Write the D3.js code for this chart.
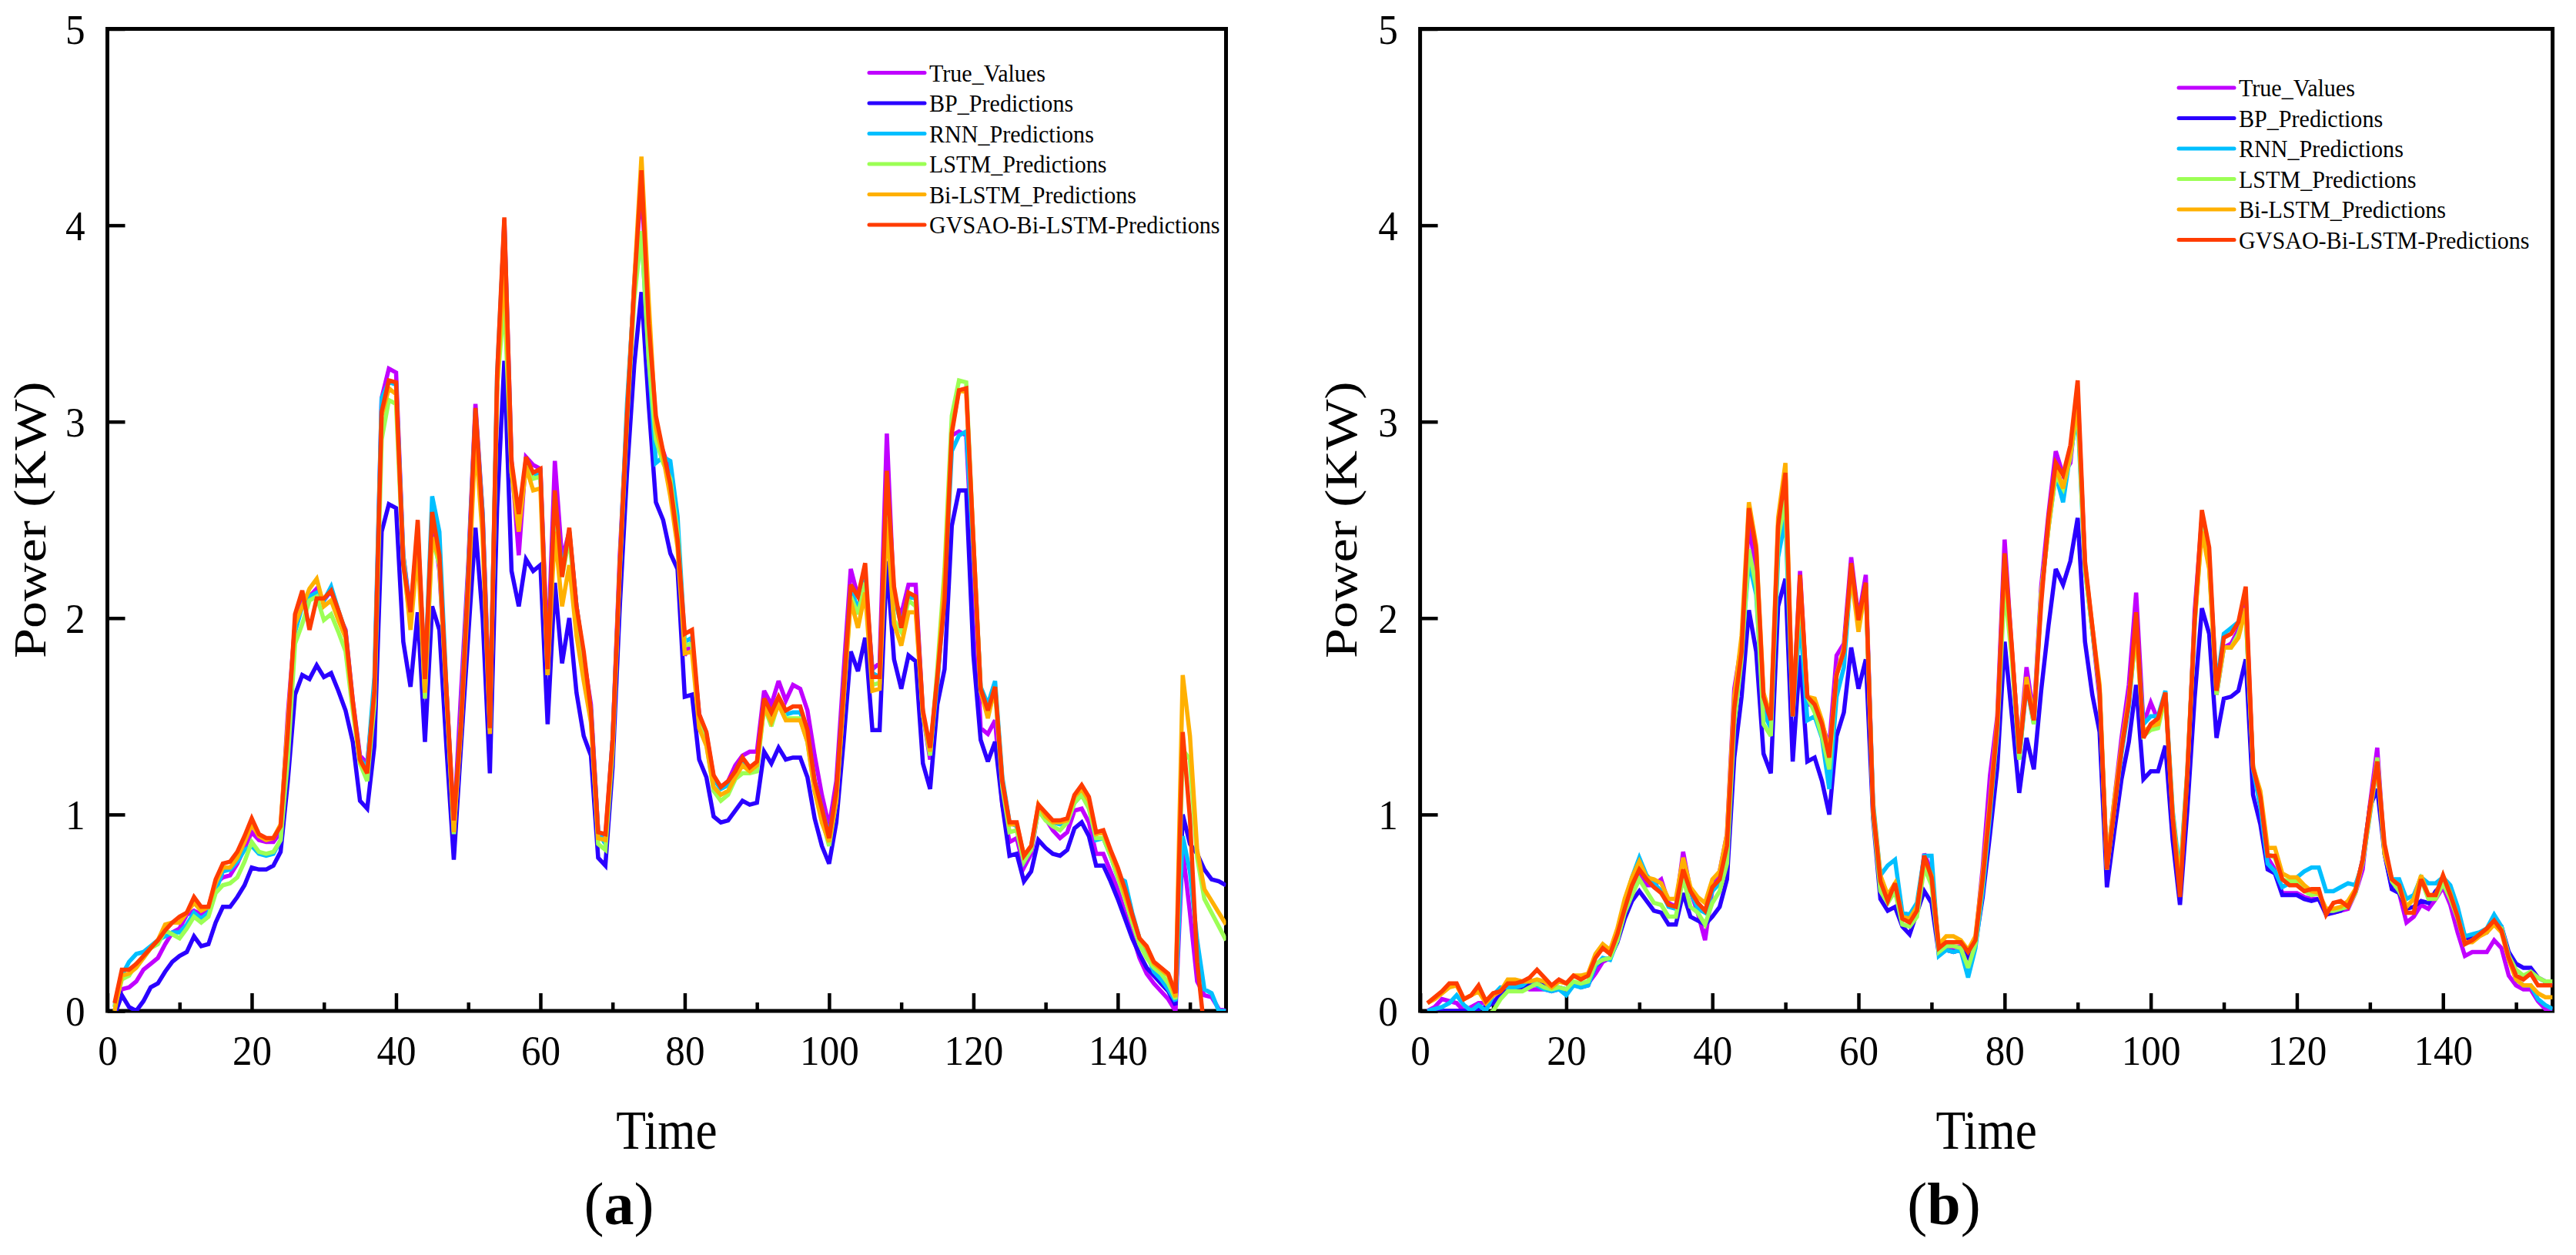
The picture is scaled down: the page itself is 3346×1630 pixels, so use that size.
<!DOCTYPE html>
<html><head><meta charset="utf-8">
<script src="https://cdn.jsdelivr.net/npm/d3@7"></script>
<style>
html,body{margin:0;padding:0;background:#fff;}
svg{display:block;background:#fff;}
text{font-family:"Liberation Serif","Times New Roman",serif;fill:#000;}
</style>
</head><body>
<svg id="chart" width="3346" height="1630"></svg>
<script>
// ---------- data ----------
const timeSteps = d3.range(1, 156);
const seriesNames = ["True_Values","BP_Predictions","RNN_Predictions","LSTM_Predictions","Bi-LSTM_Predictions","GVSAO-Bi-LSTM-Predictions"];
const seriesColors = ["#C000FF","#2A00FF","#00BFFF","#9CFF55","#FFB000","#FF3C00"];
const xTicksMajor = [0,20,40,60,80,100,120,140];
const xTicksMinor = [10,30,50,70,90,110,130,150];
const yTicks = [0,1,2,3,4,5];
const panelLetters = ["a","b"];
const xTitle = "Time";
const yTitle = "Power (KW)";

// panel (a)
const aTrue = [0.03,0.11,0.12,0.15,0.21,0.24,0.27,0.34,0.40,0.42,
 0.49,0.51,0.49,0.52,0.65,0.68,0.69,0.75,0.83,0.91,
 0.87,0.86,0.86,0.91,1.51,1.97,2.09,2.11,2.15,2.09,
 2.14,2.02,1.94,1.58,1.30,1.26,1.63,3.12,3.27,3.25,
 2.32,2.03,2.44,1.68,2.53,2.24,1.62,0.94,1.62,2.27,
 3.09,2.53,1.50,3.15,4.03,2.80,2.32,2.82,2.78,2.76,
 1.80,2.80,2.30,2.44,2.06,1.80,1.56,0.91,0.88,1.38,
 2.32,3.03,3.71,4.21,3.47,2.94,2.85,2.74,2.42,1.81,
 1.88,1.51,1.41,1.19,1.14,1.17,1.25,1.30,1.32,1.32,
 1.63,1.56,1.68,1.58,1.66,1.64,1.53,1.30,1.10,0.94,
 1.17,1.72,2.25,2.11,2.20,1.74,1.77,2.94,2.09,2.02,
 2.17,2.17,1.51,1.28,1.67,2.18,2.93,2.95,2.93,2.20,
 1.44,1.41,1.48,1.05,0.86,0.88,0.73,0.80,1.03,0.98,
 0.92,0.88,0.91,1.02,1.03,0.96,0.80,0.80,0.71,0.62,
 0.50,0.39,0.27,0.19,0.14,0.10,0.06,0.00,0.82,0.50,
 0.15,0.08,0.07,0.01,0.00];
const aBP = [-0.02,0.08,0.02,0.00,0.05,0.12,0.14,0.20,0.25,0.28,
 0.30,0.38,0.33,0.34,0.45,0.53,0.53,0.58,0.64,0.73,
 0.72,0.72,0.74,0.81,1.17,1.61,1.71,1.69,1.76,1.70,
 1.72,1.63,1.53,1.37,1.07,1.03,1.35,2.44,2.58,2.56,
 1.88,1.65,2.03,1.37,2.06,1.94,1.33,0.77,1.35,1.91,
 2.46,2.00,1.21,2.56,3.31,2.24,2.06,2.30,2.24,2.27,
 1.46,2.18,1.77,2.00,1.62,1.40,1.30,0.78,0.74,1.24,
 2.06,2.74,3.29,3.66,3.09,2.59,2.50,2.33,2.25,1.60,
 1.61,1.28,1.19,0.99,0.96,0.97,1.02,1.07,1.05,1.06,
 1.32,1.26,1.34,1.28,1.29,1.29,1.19,0.98,0.84,0.75,
 0.96,1.37,1.83,1.73,1.90,1.43,1.43,2.29,1.79,1.64,
 1.81,1.78,1.26,1.13,1.56,1.74,2.47,2.65,2.65,1.81,
 1.38,1.27,1.37,1.05,0.79,0.80,0.66,0.71,0.87,0.83,
 0.80,0.79,0.82,0.93,0.96,0.89,0.74,0.74,0.66,0.57,
 0.47,0.37,0.29,0.22,0.18,0.14,0.10,0.03,1.00,0.85,
 0.80,0.72,0.67,0.66,0.64];
const aRNN = [0.02,0.18,0.25,0.29,0.30,0.33,0.36,0.38,0.40,0.40,
 0.44,0.50,0.47,0.50,0.61,0.71,0.72,0.76,0.82,0.84,
 0.80,0.79,0.80,0.87,1.37,1.93,2.06,2.11,2.13,2.09,
 2.16,2.04,1.93,1.56,1.28,1.24,1.70,3.12,3.20,3.19,
 2.32,2.00,2.44,1.68,2.62,2.44,1.62,0.94,1.50,2.24,
 3.06,2.53,1.44,3.24,4.00,2.77,2.50,2.79,2.72,2.74,
 1.74,2.62,2.24,2.44,2.06,1.80,1.53,0.91,0.85,1.38,
 2.27,3.09,3.68,3.97,3.32,2.79,2.82,2.80,2.52,1.88,
 1.90,1.49,1.40,1.18,1.13,1.15,1.21,1.27,1.24,1.25,
 1.56,1.50,1.58,1.51,1.52,1.52,1.42,1.17,1.03,0.89,
 1.10,1.63,2.16,2.04,2.20,1.72,1.70,2.61,2.11,1.97,
 2.11,2.10,1.51,1.31,1.67,2.13,2.85,2.93,2.95,2.34,
 1.65,1.56,1.68,1.19,0.96,0.94,0.76,0.83,1.03,0.99,
 0.96,0.95,0.96,1.06,1.10,1.04,0.87,0.88,0.79,0.68,
 0.66,0.50,0.37,0.29,0.20,0.16,0.11,0.05,0.89,0.71,
 0.36,0.11,0.09,0.00,0.00];
const aLSTM = [0.02,0.16,0.18,0.24,0.27,0.32,0.34,0.41,0.39,0.37,
 0.42,0.48,0.45,0.48,0.60,0.64,0.65,0.68,0.76,0.86,
 0.81,0.80,0.81,0.87,1.28,1.87,1.97,2.09,2.11,1.99,
 2.02,1.93,1.83,1.53,1.26,1.17,1.56,2.91,3.11,3.09,
 2.27,1.97,2.41,1.59,2.41,2.27,1.59,0.90,1.47,2.21,
 3.00,2.44,1.43,3.18,3.62,2.74,2.53,2.79,2.71,2.72,
 1.71,2.59,2.21,2.41,2.03,1.74,1.50,0.85,0.82,1.32,
 2.24,3.00,3.62,3.97,3.32,2.91,2.79,2.71,2.44,1.86,
 1.87,1.47,1.36,1.12,1.07,1.10,1.18,1.21,1.21,1.22,
 1.55,1.45,1.57,1.49,1.49,1.49,1.37,1.12,0.98,0.84,
 1.07,1.58,2.11,2.02,2.18,1.66,1.67,2.61,1.99,1.93,
 2.09,2.06,1.51,1.30,1.74,2.25,3.03,3.21,3.20,2.39,
 1.63,1.51,1.63,1.14,0.91,0.92,0.76,0.82,1.02,0.97,
 0.94,0.92,0.96,1.06,1.10,1.03,0.88,0.88,0.79,0.68,
 0.57,0.45,0.34,0.27,0.22,0.19,0.14,0.06,1.33,1.28,
 0.78,0.57,0.50,0.43,0.36];
const aBiLSTM = [0.00,0.18,0.19,0.22,0.27,0.32,0.36,0.44,0.45,0.45,
 0.50,0.55,0.51,0.53,0.65,0.73,0.73,0.78,0.86,0.95,
 0.89,0.87,0.88,0.95,1.47,1.97,2.06,2.15,2.20,2.06,
 2.09,1.99,1.90,1.56,1.27,1.21,1.63,3.03,3.17,3.14,
 2.30,1.94,2.35,1.62,2.41,2.30,1.59,0.91,1.44,2.12,
 2.91,2.41,1.41,3.18,3.82,2.74,2.44,2.77,2.65,2.66,
 1.71,2.44,2.06,2.27,1.91,1.68,1.47,0.88,0.87,1.35,
 2.27,3.03,3.71,4.35,3.62,2.97,2.82,2.62,2.36,1.82,
 1.83,1.44,1.35,1.14,1.10,1.12,1.19,1.25,1.22,1.25,
 1.55,1.47,1.56,1.48,1.48,1.48,1.37,1.12,0.96,0.86,
 1.07,1.58,2.09,1.95,2.13,1.63,1.64,2.50,1.97,1.86,
 2.03,2.03,1.51,1.32,1.70,2.20,2.96,3.16,3.15,2.39,
 1.63,1.49,1.65,1.17,0.95,0.95,0.79,0.84,1.05,0.99,
 0.96,0.96,0.97,1.09,1.13,1.07,0.90,0.91,0.81,0.71,
 0.59,0.48,0.37,0.32,0.24,0.21,0.18,0.07,1.71,1.40,
 0.82,0.62,0.56,0.50,0.44];
const aGVSAO = [0.04,0.21,0.21,0.24,0.28,0.32,0.36,0.41,0.45,0.48,
 0.50,0.58,0.53,0.53,0.67,0.75,0.76,0.81,0.89,0.98,
 0.90,0.88,0.88,0.94,1.42,2.02,2.14,1.94,2.10,2.10,
 2.14,2.04,1.93,1.58,1.28,1.21,1.63,3.05,3.21,3.20,
 2.27,2.03,2.50,1.69,2.54,2.32,1.62,0.97,1.47,2.21,
 3.07,2.50,1.44,3.24,4.04,2.80,2.53,2.82,2.74,2.76,
 1.74,2.65,2.21,2.46,2.06,1.83,1.53,0.91,0.90,1.38,
 2.27,3.03,3.68,4.28,3.50,3.03,2.85,2.68,2.40,1.92,
 1.94,1.51,1.42,1.20,1.14,1.17,1.22,1.29,1.24,1.27,
 1.59,1.52,1.60,1.53,1.55,1.55,1.43,1.17,1.03,0.88,
 1.12,1.63,2.17,2.11,2.28,1.70,1.70,2.75,2.16,1.95,
 2.13,2.11,1.53,1.34,1.70,2.09,2.94,3.16,3.17,2.39,
 1.64,1.53,1.65,1.17,0.96,0.96,0.79,0.84,1.05,1.01,
 0.97,0.97,0.98,1.10,1.15,1.09,0.91,0.92,0.82,0.73,
 0.62,0.49,0.37,0.33,0.25,0.22,0.19,0.09,1.42,0.98,
 0.25,-0.10,-0.30,-0.30,-0.30];

// panel (b)
const bTrue = [0.00,0.02,0.06,0.05,0.04,0.00,0.02,0.04,0.04,0.04,
 0.09,0.12,0.12,0.12,0.11,0.11,0.11,0.10,0.11,0.10,
 0.14,0.13,0.14,0.19,0.25,0.27,0.39,0.51,0.61,0.70,
 0.64,0.64,0.67,0.55,0.53,0.81,0.61,0.50,0.36,0.62,
 0.71,0.90,1.64,1.87,2.49,2.22,1.58,1.46,2.41,2.68,
 1.50,2.24,1.56,1.56,1.46,1.35,1.81,1.87,2.31,2.00,
 2.22,1.02,0.65,0.57,0.63,0.48,0.48,0.50,0.80,0.71,
 0.31,0.33,0.32,0.33,0.28,0.36,0.73,1.20,1.50,2.40,
 1.83,1.33,1.75,1.50,2.16,2.53,2.85,2.73,2.79,3.14,
 2.27,1.94,1.59,0.74,1.07,1.39,1.66,2.13,1.46,1.57,
 1.48,1.62,0.98,0.61,1.15,2.03,2.51,2.31,1.61,1.85,
 1.87,1.94,2.12,1.22,1.07,0.78,0.72,0.60,0.60,0.60,
 0.58,0.57,0.57,0.50,0.50,0.51,0.52,0.60,0.72,1.05,
 1.34,0.80,0.63,0.60,0.45,0.48,0.54,0.52,0.57,0.63,
 0.54,0.40,0.28,0.30,0.30,0.30,0.36,0.32,0.18,0.13,
 0.11,0.11,0.05,0.01,0.01];
const bBP = [0.00,0.00,0.00,0.00,0.00,0.00,0.00,0.01,0.02,0.04,
 0.08,0.11,0.12,0.12,0.14,0.14,0.13,0.12,0.12,0.11,
 0.14,0.12,0.13,0.23,0.26,0.27,0.35,0.47,0.56,0.61,
 0.56,0.51,0.50,0.44,0.44,0.60,0.48,0.46,0.44,0.48,
 0.53,0.67,1.29,1.60,2.04,1.83,1.31,1.21,2.06,2.20,
 1.27,1.81,1.27,1.29,1.17,1.00,1.40,1.52,1.85,1.64,
 1.79,0.98,0.57,0.51,0.53,0.43,0.39,0.50,0.61,0.55,
 0.29,0.31,0.30,0.31,0.27,0.34,0.58,0.90,1.24,1.88,
 1.50,1.11,1.39,1.23,1.63,1.96,2.25,2.17,2.29,2.51,
 1.88,1.61,1.42,0.63,0.91,1.18,1.37,1.66,1.18,1.22,
 1.22,1.35,0.87,0.54,1.02,1.59,2.05,1.92,1.39,1.59,
 1.60,1.63,1.79,1.10,0.95,0.72,0.70,0.59,0.59,0.59,
 0.57,0.56,0.57,0.49,0.50,0.51,0.55,0.61,0.77,1.04,
 1.13,0.80,0.62,0.60,0.52,0.53,0.56,0.55,0.61,0.65,
 0.59,0.48,0.36,0.38,0.39,0.40,0.46,0.43,0.30,0.24,
 0.22,0.22,0.17,0.15,0.13];
const bRNN = [0.00,0.01,0.02,0.04,0.08,0.03,0.00,0.03,0.00,0.08,
 0.12,0.12,0.12,0.13,0.16,0.13,0.11,0.10,0.11,0.08,
 0.13,0.12,0.13,0.23,0.27,0.26,0.36,0.55,0.68,0.78,
 0.69,0.65,0.61,0.53,0.52,0.70,0.61,0.52,0.50,0.61,
 0.65,0.79,1.52,1.83,2.29,2.12,1.52,1.44,2.31,2.51,
 1.50,2.00,1.48,1.50,1.39,1.13,1.60,1.75,2.24,1.99,
 2.16,1.06,0.69,0.74,0.77,0.50,0.49,0.55,0.79,0.79,
 0.28,0.31,0.30,0.31,0.17,0.32,0.61,1.00,1.44,2.29,
 1.81,1.28,1.66,1.46,2.12,2.46,2.73,2.59,2.84,3.03,
 2.25,1.94,1.63,0.72,1.02,1.31,1.55,1.96,1.46,1.50,
 1.50,1.63,1.02,0.69,1.22,1.96,2.51,2.27,1.66,1.92,
 1.95,1.98,2.03,1.23,1.04,0.75,0.71,0.63,0.65,0.68,
 0.71,0.73,0.73,0.61,0.61,0.63,0.65,0.64,0.75,1.00,
 1.26,0.80,0.67,0.67,0.57,0.59,0.68,0.65,0.65,0.68,
 0.64,0.53,0.38,0.39,0.40,0.42,0.49,0.43,0.28,0.16,
 0.13,0.13,0.06,0.03,0.01];
const bLSTM = [-0.03,-0.03,-0.03,-0.03,-0.03,-0.03,-0.03,-0.03,-0.03,0.00,
 0.06,0.10,0.10,0.10,0.12,0.14,0.12,0.11,0.12,0.11,
 0.15,0.14,0.15,0.24,0.26,0.27,0.36,0.50,0.59,0.67,
 0.61,0.55,0.54,0.48,0.48,0.68,0.53,0.50,0.44,0.55,
 0.61,0.75,1.46,1.79,2.35,2.16,1.46,1.40,2.41,2.60,
 1.50,2.14,1.60,1.52,1.40,1.23,1.71,1.83,2.24,1.99,
 2.16,1.00,0.61,0.55,0.61,0.44,0.43,0.48,0.73,0.64,
 0.30,0.33,0.33,0.32,0.22,0.34,0.65,1.03,1.42,2.16,
 1.79,1.28,1.68,1.46,2.12,2.46,2.73,2.66,2.82,3.08,
 2.25,1.94,1.63,0.72,1.02,1.33,1.57,1.94,1.40,1.43,
 1.44,1.60,1.00,0.63,1.20,1.96,2.46,2.27,1.61,1.85,
 1.85,1.92,2.03,1.25,1.09,0.80,0.78,0.67,0.66,0.66,
 0.61,0.59,0.60,0.51,0.51,0.52,0.53,0.60,0.76,1.02,
 1.29,0.82,0.66,0.61,0.53,0.57,0.67,0.57,0.57,0.65,
 0.57,0.47,0.34,0.36,0.39,0.41,0.44,0.42,0.28,0.21,
 0.18,0.20,0.17,0.15,0.15];
const bBiLSTM = [0.04,0.06,0.09,0.12,0.13,0.06,0.08,0.10,0.04,0.08,
 0.10,0.16,0.16,0.15,0.15,0.16,0.15,0.12,0.15,0.14,
 0.18,0.18,0.19,0.29,0.34,0.31,0.42,0.57,0.68,0.76,
 0.68,0.67,0.65,0.57,0.57,0.78,0.63,0.58,0.55,0.67,
 0.71,0.90,1.60,1.91,2.59,2.37,1.62,1.50,2.51,2.79,
 1.52,2.18,1.60,1.59,1.48,1.31,1.71,1.85,2.22,1.93,
 2.16,1.04,0.69,0.59,0.65,0.48,0.47,0.53,0.77,0.69,
 0.34,0.38,0.38,0.36,0.31,0.38,0.70,1.07,1.48,2.29,
 1.83,1.33,1.70,1.48,2.12,2.46,2.77,2.66,2.84,3.10,
 2.27,1.96,1.66,0.74,1.07,1.35,1.59,1.94,1.42,1.45,
 1.46,1.62,1.00,0.65,1.22,1.98,2.44,2.25,1.63,1.85,
 1.85,1.90,2.05,1.24,1.12,0.83,0.83,0.70,0.68,0.68,
 0.64,0.61,0.60,0.52,0.52,0.53,0.56,0.62,0.76,1.01,
 1.26,0.80,0.67,0.64,0.53,0.57,0.69,0.59,0.59,0.69,
 0.60,0.48,0.35,0.35,0.38,0.40,0.44,0.40,0.26,0.16,
 0.13,0.13,0.09,0.07,0.07];
const bGVSAO = [0.04,0.07,0.10,0.14,0.14,0.06,0.08,0.13,0.05,0.09,
 0.10,0.14,0.14,0.15,0.17,0.21,0.17,0.13,0.16,0.14,
 0.18,0.16,0.18,0.27,0.32,0.29,0.39,0.52,0.64,0.72,
 0.67,0.63,0.60,0.54,0.53,0.72,0.61,0.55,0.51,0.63,
 0.67,0.84,1.54,1.83,2.56,2.35,1.60,1.48,2.47,2.74,
 1.50,2.22,1.60,1.56,1.46,1.29,1.71,1.83,2.28,1.99,
 2.18,1.02,0.66,0.56,0.65,0.47,0.45,0.51,0.79,0.68,
 0.32,0.35,0.35,0.35,0.30,0.36,0.67,1.04,1.46,2.33,
 1.85,1.31,1.66,1.48,2.07,2.51,2.79,2.73,2.88,3.21,
 2.29,1.96,1.63,0.72,1.02,1.33,1.57,2.03,1.39,1.46,
 1.49,1.62,0.98,0.58,1.20,1.98,2.55,2.36,1.63,1.90,
 1.92,1.98,2.16,1.24,1.09,0.79,0.79,0.67,0.64,0.64,
 0.61,0.62,0.62,0.49,0.55,0.56,0.53,0.61,0.77,1.04,
 1.27,0.85,0.67,0.64,0.50,0.50,0.67,0.59,0.59,0.69,
 0.59,0.48,0.34,0.36,0.39,0.42,0.46,0.41,0.27,0.18,
 0.16,0.19,0.13,0.13,0.13];

// ---------- layout ----------
const W = 3346, H = 1630;
const yTop = 37.5, yBot = 1313;
const panels = [
  {x0: 139.5, x1: 1592.5, legendX: 1129, legendY: 94.5, labelX: 804, titleX: 59,
   data: [aTrue, aBP, aRNN, aLSTM, aBiLSTM, aGVSAO]},
  {x0: 1844.6, x1: 3315.6, legendX: 2830, legendY: 114, labelX: 2525, titleX: 1762,
   data: [bTrue, bBP, bRNN, bLSTM, bBiLSTM, bGVSAO]}
];

const svg = d3.select("#chart").attr("width", W).attr("height", H);
svg.append("rect").attr("width", W).attr("height", H).attr("fill", "#fff");
const defs = svg.append("defs");

panels.forEach((P, pi) => {
  const x = d3.scaleLinear().domain([0, 155]).range([P.x0, P.x1]);
  const y = d3.scaleLinear().domain([0, 5]).range([yBot, yTop]);
  const g = svg.append("g");

  defs.append("clipPath").attr("id", "clip" + pi)
    .append("rect").attr("x", P.x0).attr("y", yTop)
    .attr("width", P.x1 - P.x0).attr("height", yBot - yTop);

  // minor x ticks
  const xMin = g.append("g").attr("transform", `translate(0,${yBot})`)
    .call(d3.axisBottom(x).tickValues(xTicksMinor).tickSize(-11).tickFormat(""));
  xMin.select(".domain").remove();
  xMin.selectAll("line").attr("stroke", "#000").attr("stroke-width", 4.5);

  // major x ticks
  const xMaj = g.append("g").attr("transform", `translate(0,${yBot})`)
    .call(d3.axisBottom(x).tickValues(xTicksMajor).tickSize(-23).tickFormat(d3.format("d")));
  xMaj.attr("font-family", null).attr("font-size", null);
  xMaj.select(".domain").remove();
  xMaj.selectAll("line").attr("stroke", "#000").attr("stroke-width", 4.5);
  xMaj.selectAll("text").attr("y", 70).attr("dy", null)
    .style("font-size", "55px").attr("fill", "#000")
    .attr("transform", "scale(0.93,1)");

  // y ticks
  const yAx = g.append("g").attr("transform", `translate(${P.x0},0)`)
    .call(d3.axisLeft(y).tickValues(yTicks).tickSize(-23).tickFormat(d3.format("d")));
  yAx.attr("font-family", null).attr("font-size", null);
  yAx.select(".domain").remove();
  yAx.selectAll("line").attr("stroke", "#000").attr("stroke-width", 4.5);
  yAx.selectAll("text").attr("x", -31).attr("dy", "0.34em")
    .style("font-size", "55px").attr("fill", "#000")
    .attr("transform", "scale(0.93,1)");

  // frame
  g.append("rect").attr("x", P.x0).attr("y", yTop)
    .attr("width", P.x1 - P.x0).attr("height", yBot - yTop)
    .attr("fill", "none").attr("stroke", "#000").attr("stroke-width", 5);

  // series lines
  const line = d3.line().x((d, i) => x(timeSteps[i])).y(d => y(d));
  const lg = g.append("g").attr("clip-path", `url(#clip${pi})`);
  P.data.forEach((vals, si) => {
    lg.append("path").datum(vals)
      .attr("d", line)
      .attr("fill", "none")
      .attr("stroke", seriesColors[si])
      .attr("stroke-width", 5.5)
      .attr("stroke-linejoin", "miter")
      .attr("stroke-miterlimit", 3);
  });

  // legend
  const leg = g.append("g");
  seriesNames.forEach((name, si) => {
    const ly = P.legendY + si * 39.5;
    leg.append("line").attr("x1", P.legendX).attr("x2", P.legendX + 72)
      .attr("y1", ly).attr("y2", ly)
      .attr("stroke", seriesColors[si]).attr("stroke-width", 5).attr("stroke-linecap", "round");
    leg.append("text").text(name)
      .attr("transform", `translate(${P.legendX + 78},${ly + 11}) scale(0.94,1)`)
      .style("font-size", "32px");
  });

  // axis titles
  g.append("text").text(xTitle)
    .attr("text-anchor", "middle")
    .attr("transform", `translate(${(P.x0 + P.x1) / 2},1492) scale(0.88,1)`)
    .style("font-size", "72px");
  g.append("text").text(yTitle)
    .attr("text-anchor", "middle")
    .attr("transform", `translate(${P.titleX},${(yTop + yBot) / 2}) scale(0.86,1) rotate(-90)`)
    .style("font-size", "70px");

  // panel label
  const lab = g.append("text").attr("text-anchor", "middle")
    .attr("transform", `translate(${P.labelX},1590)`)
    .style("font-size", "78px");
  lab.append("tspan").text("(");
  lab.append("tspan").attr("font-weight", "bold").text(panelLetters[pi]);
  lab.append("tspan").text(")");
});
</script>
</body></html>
